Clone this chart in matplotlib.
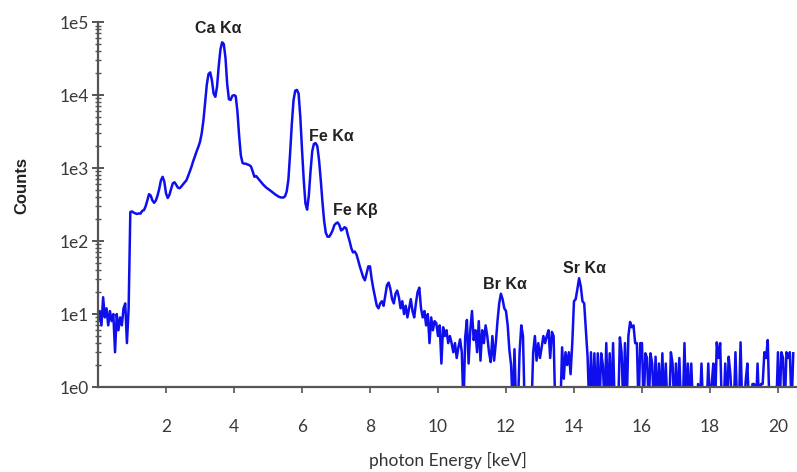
import numpy as np
import matplotlib
matplotlib.use('Agg')
import matplotlib.pyplot as plt
from matplotlib.ticker import LogLocator, FixedLocator

# spectrum channels, 0.05 keV each, starting at 0 keV
kev_per_channel = 0.05
counts = [
    # 0.00 - 0.95
    8, 11, 7, 17, 9, 12, 7, 11, 8, 10, 3, 10, 6, 9, 7, 12, 14, 4, 12, 250,
    # 1.00 - 1.95
    255, 245, 240, 235, 240, 238, 260, 265, 300, 360, 440, 420, 360, 335, 360, 420, 520, 680, 760, 650,
    # 2.00 - 2.95
    450, 390, 430, 520, 620, 640, 590, 540, 530, 560, 600, 640, 680, 780, 900, 1050, 1250, 1450, 1700, 1950,
    # 3.00 - 3.95
    2300, 3000, 4500, 8000, 14000, 19500, 20500, 16000, 10500, 9500,
    13000, 25000, 42000, 53000, 50000, 32000, 14000, 8800, 8600, 9800,
    # 4.00 - 4.95
    10000, 9700, 6000, 2800, 1500, 1180, 1150, 1150, 1120, 1100, 1050, 900, 760, 780, 730, 680, 640, 600, 570, 540,
    # 5.00 - 5.95
    520, 500, 480, 460, 440, 425, 410, 400, 395, 395, 410, 480, 700, 1600, 4000, 8500, 11500, 11800, 10500, 5000,
    # 6.00 - 6.95
    1800, 700, 330, 270, 420, 900, 1700, 2150, 2200, 2000, 1300, 700, 350, 190, 130, 115, 115, 125, 140, 165,
    # 7.00 - 7.95
    175, 180, 165, 140, 145, 155, 150, 120, 100, 80, 70, 72, 66, 55, 45, 38, 32, 29, 36, 45,
    # 8.00 - 8.95
    45, 30, 22, 17, 13, 12, 14, 15, 13, 18, 25, 27, 22, 16, 14, 19, 21, 17, 12, 15,
    # 9.00 - 9.95
    10, 13, 9, 12, 16, 11, 9, 14, 20, 23, 12, 9, 11, 7, 10, 4, 9, 6, 8, 7.5,
    # 10.00 - 10.95
    5, 7, 2.1, 6.6, 5, 6, 4, 5, 4, 3, 4, 2.5, 3.5, 4.5, 3, 0.5, 4.8, 8.3, 2.1, 6,
    # 11.00 - 11.95
    11, 4.4, 6, 3, 8, 2.3, 6, 4, 7, 5, 3, 2.2, 5, 2.3, 4, 8, 14, 19, 16, 12,
    # 12.00 - 12.95
    11, 7, 3.2, 2, 0.5, 3.3, 0.5, 0.5, 3, 7, 5, 0.5, 0.5, 0.5, 0.5, 0.5, 3, 5, 2.3, 4,
    # 13.00 - 13.95
    2.5, 3.5, 5, 4, 5, 6, 2.5, 5.7, 5, 0.5, 0.5, 0.5, 0.5, 3.5, 1.3, 3, 2, 3, 1.5, 4,
    # 14.00 - 14.95
    15, 16, 22, 31, 24, 15, 14, 6, 2.6, 0.5, 3, 0.5, 2.9, 0.5, 2.9, 0.5, 2.9, 2, 0.5, 4,
    # 15.00 - 15.95
    0.5, 2.9, 0.5, 4, 0.5, 0.5, 0.5, 4.8, 3, 0.5, 4, 0.5, 5, 7.8, 6.6, 7, 4, 4, 0.5, 4,
    # 16.00 - 16.95
    4, 0.5, 2.9, 2.5, 0.5, 2.9, 2.1, 0.5, 2.6, 0.5, 2.1, 0.5, 2.9, 0.5, 2.1, 0.5, 0.5, 3, 2.1, 0.5,
    # 17.00 - 17.95
    2.1, 0.5, 2.5, 0.5, 0.5, 4, 0.5, 2.1, 0.5, 2.1, 0.5, 0.5, 0.5, 1.1, 0.5, 2.1, 0.5, 0.5, 0.5, 2.1,
    # 18.00 - 18.95
    0.5, 1.1, 2.1, 0.5, 4.1, 2.5, 4, 0.5, 0.5, 2.1, 0.5, 2.6, 1.5, 0.5, 0.5, 3, 0.5, 0.5, 4.1, 0.5,
    # 19.00 - 19.95
    0.5, 1.2, 2.1, 0.5, 0.5, 1.1, 1.1, 0.5, 2.1, 0.5, 1.1, 1.1, 3, 2.5, 4.4, 0.5, 0.5, 0.5, 0.5, 0.5,
    # 20.00 - 20.45
    3, 0.5, 3, 2.5, 0.5, 3, 2.5, 3, 0.5, 2.9,
]
energy = np.arange(len(counts)) * kev_per_channel

peak_names = ['Ca K\u03b1', 'Fe K\u03b1', 'Fe K\u03b2', 'Br K\u03b1', 'Sr K\u03b1']
peak_x = [3.53, 6.85, 7.56, 11.97, 14.3]
peak_y = [83000, 2750, 265, 25.8, 42.7]

fig = plt.figure(figsize=(7.97, 4.72), dpi=100)
ax = fig.add_axes([0.123, 0.18, 0.877, 0.773])

ax.plot(energy, counts, color='#0f0fee', lw=1.8)

ax.set_yscale('log')
ax.set_ylim(1, 1e5)
ax.set_xlim(0, 20.56)

axis_col = '#555555'
for side in ['top', 'right']:
    ax.spines[side].set_visible(False)
for side in ['left', 'bottom']:
    ax.spines[side].set_color(axis_col)
    ax.spines[side].set_linewidth(1.6)

ax.yaxis.set_minor_locator(LogLocator(base=10, subs=np.arange(2, 10), numticks=20))
ax.set_yticks([1, 10, 100, 1000, 1e4, 1e5])
ax.set_yticklabels(['1e0', '1e1', '1e2', '1e3', '1e4', '1e5'])
ax.xaxis.set_major_locator(FixedLocator([2, 4, 6, 8, 10, 12, 14, 16, 18, 20]))

ax.tick_params(axis='y', which='major', direction='inout', length=9, width=1.4,
               color=axis_col, labelsize=12.5, labelcolor='#3a3a3a', pad=2)
ax.tick_params(axis='y', which='minor', direction='inout', length=4, width=1.0, color=axis_col)
ax.tick_params(axis='x', which='major', direction='out', length=4, width=1.2,
               color=axis_col, labelsize=12.5, labelcolor='#3a3a3a', pad=19)
for lab in ax.get_xticklabels() + ax.get_yticklabels():
    lab.set_family('Lato')

ax.set_xlabel('photon Energy [keV]', family='Lato', fontsize=12.5, color='#333333', labelpad=12)
fig.text(22 / 797, 1 - 185 / 472, 'Counts', rotation=90, ha='center', va='center',
         family='Liberation Sans', fontweight='bold', fontsize=12, color='#222222')

for name, x, y in zip(peak_names, peak_x, peak_y):
    ax.text(x, y, name, ha='center', va='center', family='Liberation Sans',
            fontweight='bold', fontsize=11.5, color='#222222')

fig.savefig('out.png', dpi=100)
